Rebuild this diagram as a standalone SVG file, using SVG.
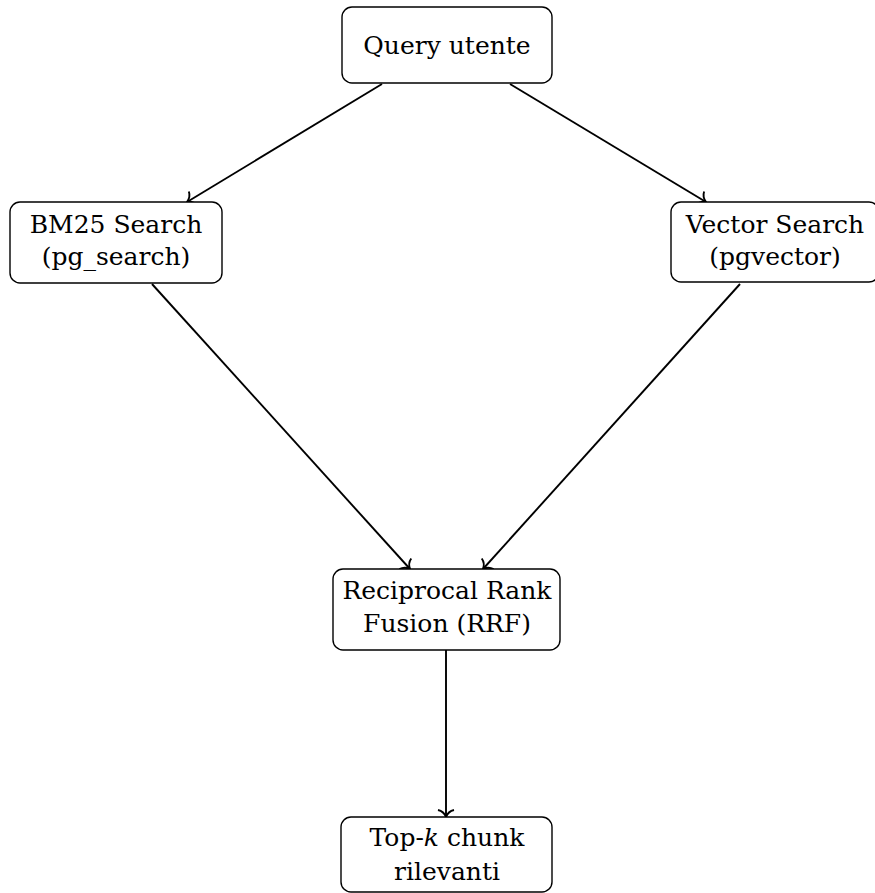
<svg xmlns="http://www.w3.org/2000/svg" width="875" height="893" viewBox="0 0 875 893">
<style>
.box{fill:#fff;stroke:#000;stroke-width:1.4}
.t{font-family:"DejaVu Serif","Liberation Serif",serif;font-size:25px;fill:#000;text-anchor:middle}
.e{fill:none;stroke:#000;stroke-width:1.9}
</style>
<defs>
<marker id="arr" markerUnits="userSpaceOnUse" markerWidth="24" markerHeight="24" viewBox="-12 -12 24 24" refX="0" refY="0" orient="auto">
<path d="M-7,-8 C-6,-3.5 -2.5,-1 0,0 C-2.5,1 -6,3.5 -7,8" fill="none" stroke="#000" stroke-width="1.9"/>
</marker>
</defs>
<g id="edges">
<line class="e" x1="382" y1="84" x2="187" y2="202" marker-end="url(#arr)"/>
<line class="e" x1="510" y1="84" x2="706" y2="202" marker-end="url(#arr)"/>
<line class="e" x1="152" y1="284" x2="410" y2="569" marker-end="url(#arr)"/>
<line class="e" x1="740" y1="284" x2="483" y2="569" marker-end="url(#arr)"/>
<line class="e" x1="446" y1="650" x2="446" y2="817" marker-end="url(#arr)"/>
</g>
<g id="query">
<rect class="box" x="342" y="7" width="210" height="76" rx="10"/>
<text class="t" x="447" y="54">Query utente</text>
</g>
<g id="bm25">
<rect class="box" x="10" y="202" width="212" height="81" rx="10"/>
<text class="t" x="116" y="233">BM25 Search</text>
<text class="t" x="116" y="265">(pg_search)</text>
</g>
<g id="vector">
<rect class="box" x="671" y="202" width="208" height="80" rx="10"/>
<text class="t" x="775" y="233">Vector Search</text>
<text class="t" x="775" y="265">(pgvector)</text>
</g>
<g id="rrf">
<rect class="box" x="333" y="569" width="227" height="81" rx="10"/>
<text class="t" x="447" y="599">Reciprocal Rank</text>
<text class="t" x="447" y="632">Fusion (RRF)</text>
</g>
<g id="topk">
<rect class="box" x="341" y="817" width="211" height="75" rx="10"/>
<text class="t" x="447" y="846">Top-<tspan font-style="italic">k</tspan> chunk</text>
<text class="t" x="447" y="880">rilevanti</text>
</g>
</svg>
